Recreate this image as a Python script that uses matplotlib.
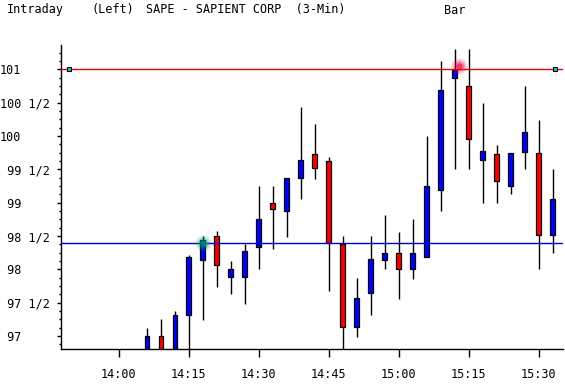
import matplotlib
matplotlib.use("Agg")
import matplotlib.pyplot as plt
from matplotlib.ticker import FixedLocator, MultipleLocator

# ---------------- data ----------------
times = ["14:06", "14:09", "14:12", "14:15", "14:18", "14:21", "14:24", "14:27",
         "14:30", "14:33", "14:36", "14:39", "14:42", "14:45", "14:48", "14:51",
         "14:54", "14:57", "15:00", "15:03", "15:06", "15:09", "15:12", "15:15",
         "15:18", "15:21", "15:24", "15:27", "15:30", "15:33"]
opens = [96.75, 97.00, 96.75, 97.31, 98.14, 98.50, 97.88, 97.88,
         98.33, 99.00, 98.88, 99.375, 99.73, 99.62, 98.38, 97.14,
         97.64, 98.14, 98.24, 98.01, 98.19, 99.19, 100.87, 100.75,
         99.64, 99.73, 99.25, 99.76, 99.74, 98.51]
highs = [97.125, 97.25, 97.375, 98.22, 98.50, 98.57, 98.13, 98.38,
         99.25, 99.25, 99.375, 100.43, 100.18, 99.69, 98.50, 97.87,
         98.50, 98.82, 98.56, 98.76, 100.00, 101.12, 101.30, 101.30,
         100.49, 99.87, 99.74, 100.75, 100.24, 99.50]
lows = [96.70, 96.70, 96.70, 96.70, 97.24, 97.74, 97.63, 97.48,
        98.00, 98.31, 98.49, 99.05, 99.36, 97.68, 96.70, 96.99,
        97.31, 98.00, 97.56, 97.86, 98.18, 98.87, 99.50, 99.50,
        98.99, 98.99, 99.13, 99.50, 98.00, 98.24]
closes = [97.00, 96.75, 97.31, 98.19, 98.44, 98.06, 98.00, 98.28,
          98.75, 98.90, 99.375, 99.64, 99.52, 98.40, 97.14, 97.57,
          98.15, 98.24, 98.01, 98.24, 99.25, 100.69, 100.99, 99.95,
          99.77, 99.32, 99.74, 100.06, 98.51, 99.05]

xtick_labels = ["14:00", "14:15", "14:30", "14:45", "15:00", "15:15", "15:30"]
ytick_values = [97.0, 97.5, 98.0, 98.5, 99.0, 99.5, 100.0, 100.5, 101.0]
ytick_labels = [" 97", " 97 1/2", " 98", " 98 1/2", " 99", " 99 1/2",
                "100", "100 1/2", "101"]

resistance = 101.0     # red line
support = 98.40        # blue line
green_dot = ("14:18", 98.40)
red_dot = ("15:13", 101.05)
handles_t = ["13:49.35", "15:33.5"]


def to_min(t):
    h, m = t.split(":")
    return (int(h) - 14) * 60 + float(m)


x = [to_min(t) for t in times]
xt = [to_min(t) for t in xtick_labels]

# ---------------- figure ----------------
W, H = 565, 385
fig = plt.figure(figsize=(W / 100, H / 100), dpi=100)
ax = fig.add_axes([61 / W, 1 - 349 / H, (563 - 61) / W, (349 - 45) / H])

FONT = "DejaVu Sans Mono"
FS = 8.5

# wicks
ax.vlines(x, lows, highs, color="black", linewidth=1.0, zorder=2)
# bodies
for xi, o, c in zip(x, opens, closes):
    col = "#0000FF" if c >= o else "#FF0000"
    lo, hi = min(o, c), max(o, c)
    ax.bar(xi, hi - lo, bottom=lo, width=1.0, color=col, edgecolor="black",
           linewidth=0.9, zorder=3)

# horizontal lines
ax.axhline(resistance, color="#EE0000", linewidth=1.0, zorder=4)
ax.axhline(support, color="#0000CC", linewidth=1.0, zorder=4)
hx = [to_min(t) for t in handles_t]
ax.plot(hx, [resistance, resistance], ls="none", marker="s", ms=3.2,
        mfc="#00C8C8", mec="black", mew=0.8, zorder=5)

# glow points
for (t, v), col in ((green_dot, (0.0, 0.62, 0.4)), (red_dot, (0.92, 0.0, 0.25))):
    xv = to_min(t)
    for s, a in ((140, 0.12), (90, 0.18), (50, 0.3), (20, 0.55)):
        ax.scatter([xv], [v], s=s, color=col, alpha=a, linewidths=0, zorder=6)

ax.set_xlim(-12.4, 95.2)
ax.set_ylim(96.807, 101.364)

for s in ("top", "right"):
    ax.spines[s].set_visible(False)
for s in ("left", "bottom"):
    ax.spines[s].set_linewidth(1.0)

ax.set_xticks(xt)
ax.set_xticklabels(xtick_labels, fontfamily=FONT, fontsize=FS)
ax.tick_params(axis="x", direction="out", length=5.8, width=1.0, pad=8)

ax.yaxis.set_major_locator(FixedLocator(ytick_values))
ax.yaxis.set_minor_locator(MultipleLocator(0.125))
ax.set_yticklabels(ytick_labels, fontfamily=FONT, fontsize=FS)
ax.tick_params(axis="y", which="major", direction="out", length=3.1, width=1.0,
               pad=40.8)
ax.tick_params(axis="y", which="minor", direction="out", length=1.6, width=1.0)
for lab in ax.get_yticklabels():
    lab.set_horizontalalignment("left")

# header texts
hy = 1 - 10 / H
fig.text(7 / W, hy, "Intraday", fontfamily=FONT, fontsize=FS, va="center")
fig.text(92 / W, hy, "(Left)", fontfamily=FONT, fontsize=FS, va="center")
fig.text(146 / W, hy, "SAPE - SAPIENT CORP  (3-Min)", fontfamily=FONT,
         fontsize=FS, va="center")
fig.text(444 / W, hy, "Bar", fontfamily=FONT, fontsize=FS, va="center")

fig.savefig("out.png", dpi=100)
